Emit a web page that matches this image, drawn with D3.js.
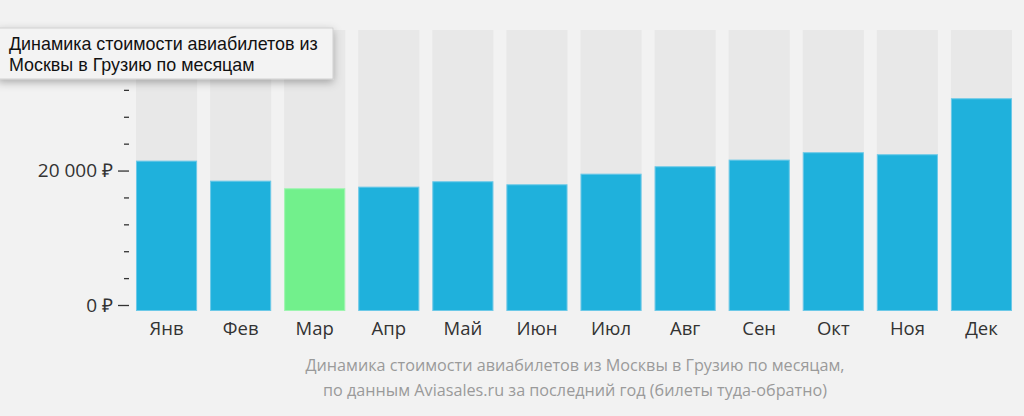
<!DOCTYPE html>
<html><head><meta charset="utf-8">
<script src="https://cdn.jsdelivr.net/npm/d3@7"></script>
<style>
html,body{margin:0;padding:0;background:#f2f2f2;}
svg{display:block;}
</style></head>
<body>
<svg id="chart" width="1024" height="416"></svg>
<script>
const months = ["Янв","Фев","Мар","Апр","Май","Июн","Июл","Авг","Сен","Окт","Ноя","Дек"];
const prices = [22370,19390,18260,18500,19300,18850,20430,21530,22520,23620,23320,31650];
const highlightMonth = "Мар";
const majorTicks = [0,20000];
const minorTicks = [4000,8000,12000,16000,24000,28000,32000];
const yMax = 41800;
const captionLines = ["Динамика стоимости авиабилетов из Москвы в Грузию по месяцам,",
  "по данным Aviasales.ru за последний год (билеты туда-обратно)"];
const tooltipLines = ["Динамика стоимости авиабилетов из","Москвы в Грузию по месяцам"];

const svg = d3.select("#chart");
const x = d3.scaleBand().domain(months).range([129.5,1018.5]).paddingInner(0.175).paddingOuter(0.0875);
const y = d3.scaleLinear().domain([0,yMax]).range([311,30]);

// background bars
svg.append("g").selectAll("rect").data(months).join("rect")
  .attr("x", d=>x(d)).attr("width", x.bandwidth())
  .attr("y", y(yMax)).attr("height", y(0)-y(yMax))
  .attr("fill","#e8e8e8");

// value bars
svg.append("g").selectAll("rect").data(months.map((m,i)=>({m,v:prices[i]}))).join("rect")
  .attr("x", d=>x(d.m)+0.5).attr("width", x.bandwidth()-1)
  .attr("y", d=>y(d.v)+0.5).attr("height", d=>y(0)-y(d.v)-1)
  .attr("fill", d=>d.m===highlightMonth?"#72f08c":"#1fb1dc")
  .attr("stroke", d=>d.m===highlightMonth?"#9ef5b0":"#6cc9e8").attr("stroke-width",1);

// y axis (drawn offset like reference)
const axisG = svg.append("g").attr("transform","translate(129,-6)");
const fmt = v => d3.format(",")(v).replace(/,/g," ") + " ₽";
axisG.call(d3.axisLeft(y).tickValues(majorTicks).tickSize(11).tickPadding(5).tickFormat(fmt))
  .call(g=>g.select(".domain").remove())
  .call(g=>g.selectAll("line").attr("stroke","#333").attr("stroke-width",1.3))
  .call(g=>g.selectAll("text").attr("fill","#333").attr("font-family","'Open Sans'").attr("font-size",19));
const minorG = svg.append("g").attr("transform","translate(129,-6)");
minorG.call(d3.axisLeft(y).tickValues(minorTicks).tickSize(5).tickFormat(""))
  .call(g=>g.select(".domain").remove())
  .call(g=>g.selectAll("line").attr("stroke","#333").attr("stroke-width",1.3));

// x axis labels
const xAxis = svg.append("g").attr("transform","translate(0,311)");
xAxis.call(d3.axisBottom(x).tickSize(0).tickPadding(11))
  .call(g=>g.select(".domain").remove())
  .call(g=>g.selectAll("text").attr("fill","#333").attr("font-family","'Open Sans'").attr("font-size",18.5));

// caption
svg.append("g").selectAll("text").data(captionLines).join("text")
  .attr("x",575).attr("y",(d,i)=>371+i*25).attr("text-anchor","middle")
  .attr("fill","#9a9a9a").attr("font-family","'Open Sans'").attr("font-size",16.2)
  .text(d=>d);

// tooltip box
const defs = svg.append("defs");
const f = defs.append("filter").attr("id","sh").attr("x","-20%").attr("y","-50%").attr("width","140%").attr("height","200%");
f.append("feDropShadow").attr("dx",0).attr("dy",3).attr("stdDeviation",4).attr("flood-color","#000").attr("flood-opacity",0.3);
const tip = svg.append("g");
tip.append("rect").attr("x",-2).attr("y",28).attr("width",335).attr("height",51)
  .attr("fill","#f3f3f3").attr("stroke","#c8c8c8").attr("stroke-width",0.8).attr("filter","url(#sh)");
tip.selectAll("text").data(tooltipLines).join("text")
  .attr("x",9).attr("y",(d,i)=>50+i*21)
  .attr("fill","#111").attr("font-family","'Liberation Sans', Arial, sans-serif").attr("font-size",17.9)
  .text(d=>d);
</script>
</body></html>
